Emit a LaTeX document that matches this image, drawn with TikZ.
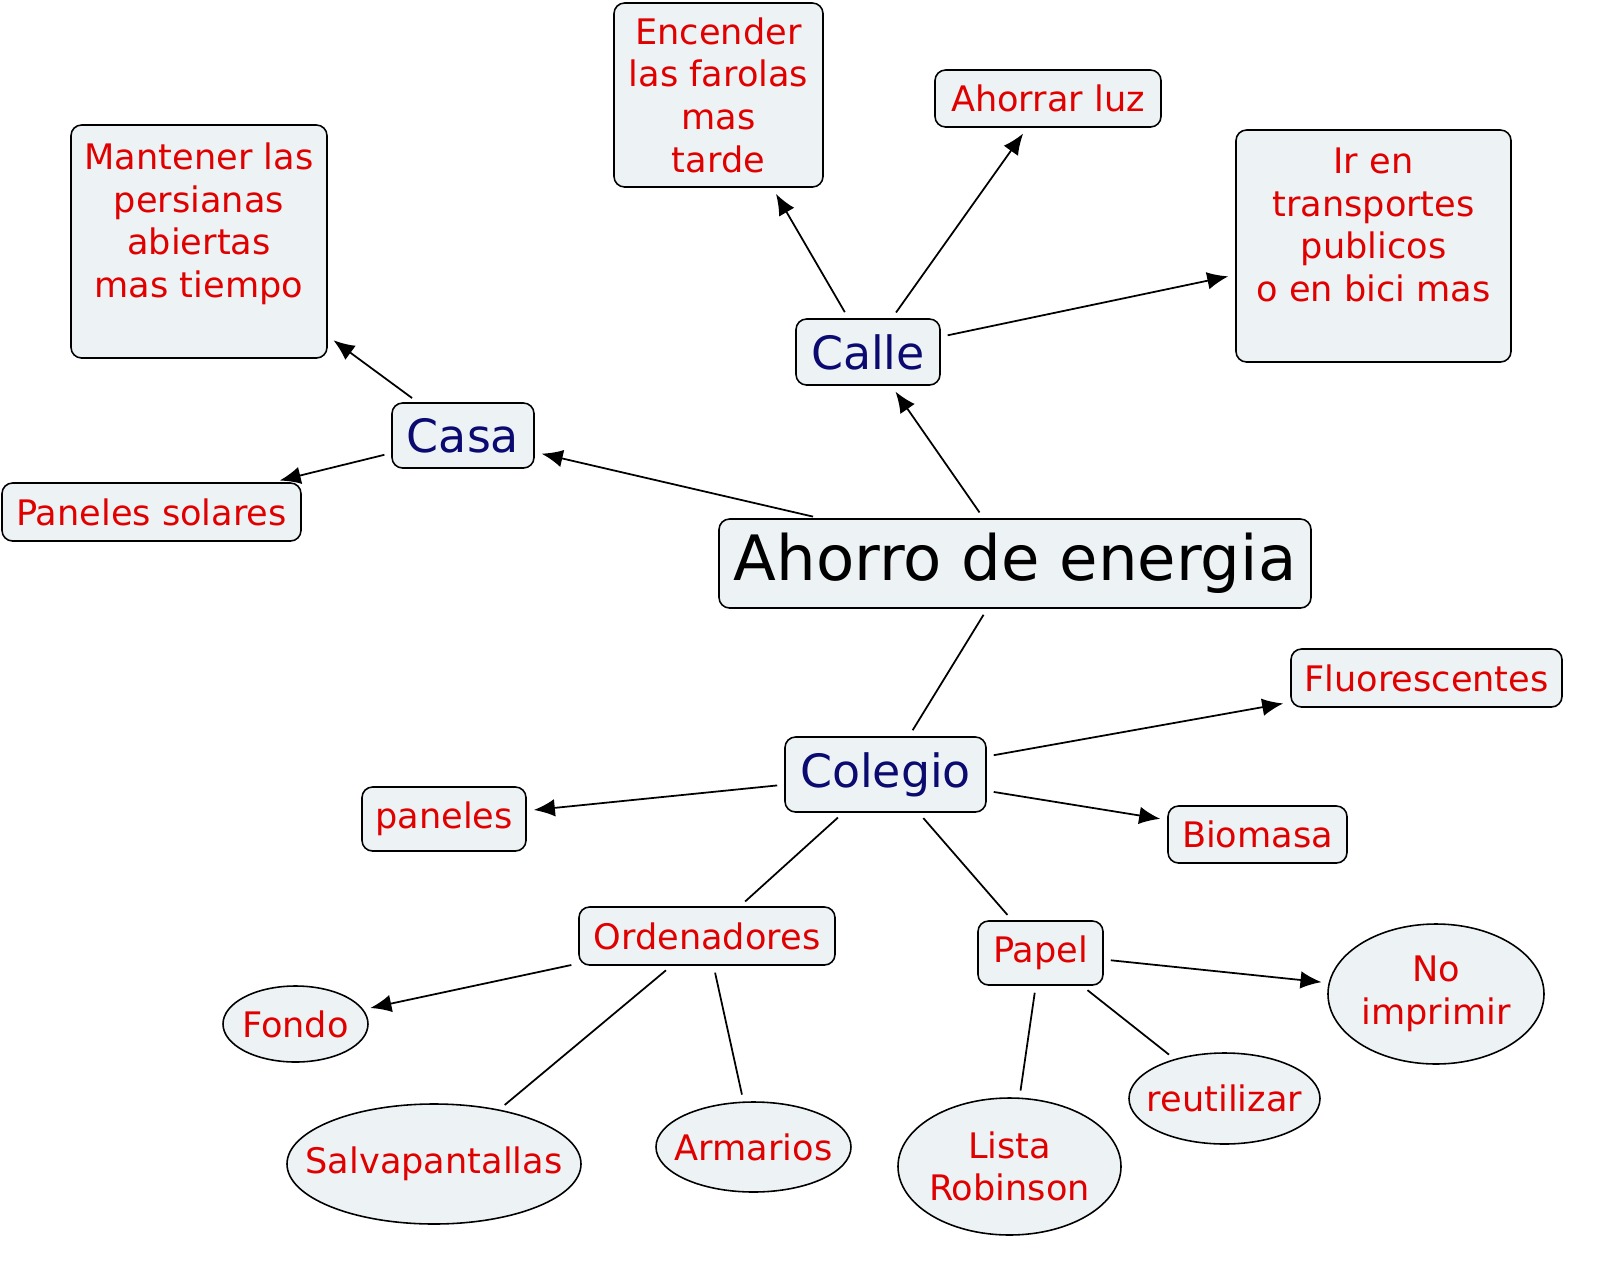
\documentclass[tikz,border=0pt]{standalone}
\usepackage{fontspec}
\setmainfont{DejaVu Sans}
\usetikzlibrary{arrows.meta,shapes.geometric}
\definecolor{boxfill}{RGB}{237,243,245}
\definecolor{conred}{RGB}{224,0,0}
\definecolor{connavy}{RGB}{10,10,112}

\begin{document}
\begin{tikzpicture}[
    box/.style={draw, rounded corners=6pt, fill=boxfill, line width=0.9pt,
      align=center, inner sep=0pt},
    oval/.style={draw, ellipse, fill=boxfill, line width=0.9pt,
      align=center, inner sep=-0.5cm},
    main/.style={box, font=\fontsize{35.6}{42}\selectfont},
    topic/.style={box, text=connavy, font=\fontsize{26.1}{30}\selectfont},
    idea/.style={text=conred, font=\fontsize{20}{24.3}\selectfont},
    link/.style={line width=1pt, shorten <=4pt, shorten >=4pt},
    arr/.style={link, -{Latex[length=12pt,width=10pt]}}
  ]
  \useasboundingbox (0,0) rectangle (32,-25.28);

  \node[main, minimum width=11.84cm, minimum height=1.78cm] (ahorro) at (20.3,-11.27)
    {Ahorro de energia};

  \node[topic, minimum width=2.88cm, minimum height=1.32cm] (calle) at (17.36,-7.04) {Calle};
  \node[topic, minimum width=2.84cm, minimum height=1.3cm] (casa) at (9.26,-8.71) {Casa};
  \node[topic, minimum width=4.02cm, minimum height=1.5cm] (colegio) at (17.71,-15.49) {Colegio};

  \node[box, idea, minimum width=4.18cm, minimum height=3.68cm] (farolas) at (14.37,-1.9)
    {Encender\\las farolas\\mas\\tarde};
  \node[box, idea, minimum width=4.52cm, minimum height=1.14cm] (luz) at (20.96,-1.97)
    {Ahorrar luz};
  \node[box, idea, minimum width=5.5cm, minimum height=4.64cm] (transporte) at (27.47,-4.92)
    {Ir en\\transportes\\publicos\\o en bici mas\\ \mbox{}};

  \node[box, idea, minimum width=5.12cm, minimum height=4.66cm] (persianas) at (3.98,-4.83)
    {Mantener las\\persianas\\abiertas\\mas tiempo\\ \mbox{}};
  \node[box, idea, minimum width=5.98cm, minimum height=1.16cm] (solares) at (3.03,-10.24)
    {Paneles solares};

  \node[box, idea, minimum width=5.42cm, minimum height=1.16cm] (fluor) at (28.53,-13.56)
    {Fluorescentes};
  \node[box, idea, minimum width=3.28cm, minimum height=1.28cm] (paneles) at (8.88,-16.38)
    {paneles};
  \node[box, idea, minimum width=3.58cm, minimum height=1.14cm] (biomasa) at (25.15,-16.69)
    {Biomasa};
  \node[box, idea, minimum width=5.12cm, minimum height=1.16cm] (orden) at (14.14,-18.72)
    {Ordenadores};
  \node[box, idea, minimum width=2.5cm, minimum height=1.28cm] (papel) at (20.81,-19.06)
    {Papel};

  \node[oval, idea, minimum width=2.9cm, minimum height=1.52cm] (fondo) at (5.91,-20.48)
    {Fondo};
  \node[oval, idea, minimum width=5.88cm, minimum height=2.4cm] (salva) at (8.68,-23.28)
    {Salvapantallas};
  \node[oval, idea, minimum width=3.9cm, minimum height=1.8cm] (armarios) at (15.07,-22.94)
    {Armarios};
  \node[oval, idea, minimum width=4.46cm, minimum height=2.74cm] (lista) at (20.19,-23.33)
    {Lista\\Robinson};
  \node[oval, idea, minimum width=3.82cm, minimum height=1.82cm] (reutil) at (24.49,-21.97)
    {reutilizar};
  \node[oval, idea, minimum width=4.32cm, minimum height=2.8cm] (imprimir) at (28.72,-19.88)
    {No\\imprimir};

  \draw[arr] (ahorro) -- (calle);
  \draw[arr] (ahorro) -- (casa);
  \draw[link] (ahorro) -- (colegio);

  \draw[arr] (calle) -- (farolas);
  \draw[arr] (calle) -- (luz);
  \draw[arr] (calle) -- (transporte);

  \draw[arr] (casa) -- (persianas);
  \draw[arr] (casa) -- (solares);

  \draw[arr] (colegio) -- (fluor);
  \draw[arr] (colegio) -- (paneles);
  \draw[arr] (colegio) -- (biomasa);
  \draw[link] (colegio) -- (orden);
  \draw[link] (colegio) -- (papel);

  \draw[arr] (orden) -- (fondo);
  \draw[link] (orden) -- (salva);
  \draw[link] (orden) -- (armarios);

  \draw[arr] (papel) -- (imprimir);
  \draw[link] (papel) -- (reutil);
  \draw[link] (papel) -- (lista);
\end{tikzpicture}
\end{document}
